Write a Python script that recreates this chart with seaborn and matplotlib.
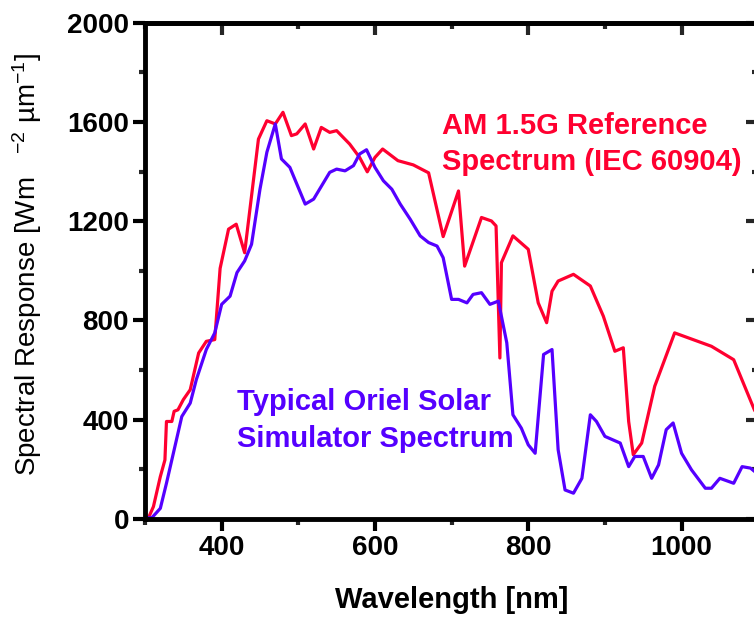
import matplotlib
matplotlib.use("Agg")
import matplotlib.pyplot as plt
import seaborn as sns
import pandas as pd
from matplotlib.ticker import MultipleLocator

# ---- data ----
am15_wl = [300, 305, 311, 320, 326, 328, 335, 338, 343, 350, 359, 370, 380, 391, 398,
           409, 419, 430, 448, 459, 470, 480, 491, 498, 509, 520, 530, 541, 550, 567,
           580, 590, 600, 610, 630, 650, 670, 689, 709, 717, 739, 752, 758, 763, 765,
           780, 800, 813, 824, 831, 839, 859, 881, 898, 913, 924, 931, 937, 948, 965,
           991, 1039, 1068, 1095, 1100]
am15_val = [0, 8, 50, 171, 238, 393, 393, 434, 440, 481, 521, 669, 716, 723, 1010,
            1168, 1188, 1073, 1531, 1605, 1592, 1639, 1545, 1552, 1592, 1491, 1578, 1558, 1565, 1511,
            1457, 1399, 1457, 1491, 1444, 1427, 1395, 1138, 1322, 1019, 1215, 1201, 1181, 649, 1033,
            1141, 1087, 871, 791, 918, 959, 986, 939, 817, 676, 690, 393, 259, 306, 535,
            750, 696, 642, 440, 410]

sim_wl = [300, 309, 320, 328, 337, 348, 359, 367, 380, 391, 400, 411, 420, 430, 439,
          450, 459, 470, 478, 489, 509, 520, 541, 550, 561, 572, 580, 589, 600, 611,
          622, 633, 646, 659, 670, 681, 689, 700, 709, 720, 728, 739, 750, 761, 772,
          780, 791, 800, 809, 820, 831, 839, 848, 859, 870, 881, 889, 900, 920, 931,
          939, 950, 961, 970, 980, 989, 1000, 1013, 1031, 1039, 1050, 1068, 1079, 1090, 1100]
sim_val = [5, 5, 43, 144, 265, 413, 467, 562, 683, 750, 865, 898, 993, 1040, 1107,
           1329, 1478, 1592, 1451, 1417, 1269, 1289, 1397, 1410, 1403, 1424, 1471, 1488, 1417, 1363,
           1329, 1269, 1208, 1141, 1114, 1100, 1053, 885, 885, 871, 905, 912, 865, 878, 710,
           420, 366, 299, 265, 663, 683, 279, 117, 104, 164, 420, 393, 333, 306, 211,
           252, 252, 164, 218, 360, 387, 265, 198, 124, 124, 164, 144, 211, 205, 180]

x_ticks = [400, 600, 800, 1000]
y_ticks = [0, 400, 800, 1200, 1600, 2000]

RED = "#FF0030"
BLUE = "#5500FF"

sns.set_style("white")
plt.rcParams["font.family"] = ["Liberation Sans", "DejaVu Sans"]
plt.rcParams["mathtext.fontset"] = "custom"
plt.rcParams["mathtext.rm"] = "Liberation Sans"
plt.rcParams["mathtext.it"] = "Liberation Sans"
plt.rcParams["mathtext.default"] = "regular"
plt.rcParams["text.color"] = "black"
plt.rcParams["axes.labelcolor"] = "black"

fig = plt.figure(figsize=(7.54, 6.19), dpi=100)
ax = fig.add_axes([145/754, 100/619, 613.2/754, 496.3/619])

df_am = pd.DataFrame({"wl": am15_wl, "val": am15_val})
df_sim = pd.DataFrame({"wl": sim_wl, "val": sim_val})
sns.lineplot(data=df_am, x="wl", y="val", ax=ax, color=RED, linewidth=2.3, sort=False)
sns.lineplot(data=df_sim, x="wl", y="val", ax=ax, color=BLUE, linewidth=2.3, sort=False)

ax.set_xlim(300, 1100)
ax.set_ylim(0, 2000)
ax.set_xticks(x_ticks)
ax.set_yticks(y_ticks)
ax.xaxis.set_minor_locator(MultipleLocator(100))
ax.yaxis.set_minor_locator(MultipleLocator(200))

for s in ax.spines.values():
    s.set_linewidth(3.5)
    s.set_color("black")
    s.set_visible(True)

ax.tick_params(axis="both", which="major", direction="out", length=8.5, width=3,
               labelsize=20, pad=3, colors="black")
ax.tick_params(axis="both", which="minor", direction="out", length=4.3, width=3)
ax.tick_params(bottom=True, left=True, top=False, right=False, which="both")
for lab in ax.get_xticklabels() + ax.get_yticklabels():
    lab.set_fontweight("bold")

# inward ticks on top and right
topax = ax.secondary_xaxis("top")
topax.set_xticks(x_ticks)
topax.xaxis.set_minor_locator(MultipleLocator(100))
topax.tick_params(which="major", direction="in", length=8.5, width=3, labeltop=False)
topax.tick_params(which="minor", direction="in", length=4.3, width=3)
topax.spines["top"].set_linewidth(3.5)
rightax = ax.secondary_yaxis("right")
rightax.set_yticks(y_ticks)
rightax.yaxis.set_minor_locator(MultipleLocator(200))
rightax.tick_params(which="major", direction="in", length=8.5, width=3, labelright=False)
rightax.tick_params(which="minor", direction="in", length=4.3, width=3)
rightax.spines["right"].set_linewidth(3.5)

ax.set_xlabel("Wavelength [nm]", fontsize=21, fontweight="bold", color="black")
ax.set_ylabel(r"Spectral Response [Wm   $^{-2}$ µm$^{-1}$]", fontsize=20, color="black")
ax.xaxis.set_label_coords(0.5, -0.135)
ax.yaxis.set_label_coords(-0.165, 0.512)

ax.text(0.4843, 0.7757, "AM 1.5G Reference", transform=ax.transAxes, color=RED,
        fontsize=21, fontweight="bold", ha="left", va="baseline")
ax.text(0.4843, 0.7032, "Spectrum (IEC 60904)", transform=ax.transAxes, color=RED,
        fontsize=21, fontweight="bold", ha="left", va="baseline")
ax.text(0.1495, 0.2196, "Typical Oriel Solar", transform=ax.transAxes, color=BLUE,
        fontsize=21, fontweight="bold", ha="left", va="baseline")
ax.text(0.1495, 0.1457, "Simulator Spectrum", transform=ax.transAxes, color=BLUE,
        fontsize=21, fontweight="bold", ha="left", va="baseline")

fig.savefig("out.png", dpi=100)
